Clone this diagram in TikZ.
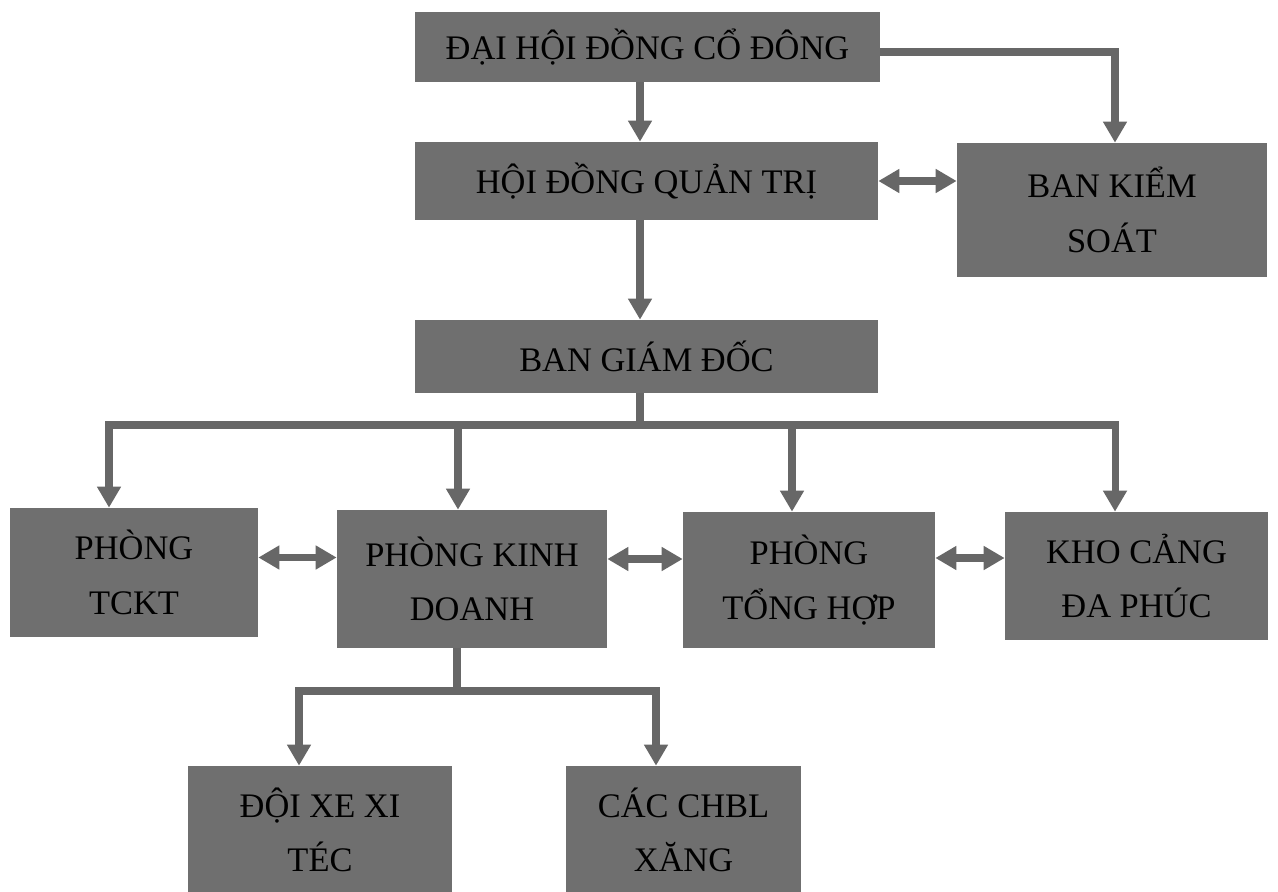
\documentclass[tikz,border=0pt]{standalone}
\usepackage{fontspec}
\setmainfont{Liberation Serif}
\usetikzlibrary{arrows.meta}
\definecolor{boxgray}{HTML}{6F6F6F}
\definecolor{arrowgray}{HTML}{676767}

\begin{document}
\begin{tikzpicture}[x=0.02cm,y=-0.02cm]
    \tikzstyle{every node}+=[inner sep=0pt]
    \tikzstyle{box}=[fill=boxgray, align=center, font=\fontsize{19.6}{31}\selectfont]
    \tikzstyle{link}=[draw=arrowgray, line width=4pt]
    \tikzstyle{arrow}=[link, -{Triangle[width=13pt,length=12pt]}]
    \tikzstyle{twoway}=[link, {Triangle[width=13pt,length=12pt]}-{Triangle[width=13pt,length=12pt]}]
    \useasboundingbox [fill=white] (0,0) rectangle (1278,892);
    % boxes
    \node [box, minimum width=9.3cm, minimum height=1.4cm] (dhdcd) at (647.5,47) {ĐẠI HỘI ĐỒNG CỔ ĐÔNG};
    \node [box, minimum width=9.26cm, minimum height=1.56cm] (hdqt) at (646.5,181) {HỘI ĐỒNG QUẢN TRỊ};
    \node [box, minimum width=6.2cm, minimum height=2.68cm] (bks) at (1112,210) {BAN KIỂM\\SOÁT};
    \node [box, minimum width=9.26cm, minimum height=1.46cm] (bgd) at (646.5,356.5) {BAN GIÁM ĐỐC};
    \node [box, minimum width=4.96cm, minimum height=2.58cm] (tckt) at (134,572.5) {PHÒNG\\TCKT};
    \node [box, minimum width=5.4cm, minimum height=2.76cm] (kd) at (472,579) {PHÒNG KINH\\DOANH};
    \node [box, minimum width=5.04cm, minimum height=2.72cm] (th) at (809,580) {PHÒNG\\TỔNG HỢP};
    \node [box, minimum width=5.26cm, minimum height=2.56cm] (kho) at (1136.5,576) {KHO CẢNG\\ĐA PHÚC};
    \node [box, minimum width=5.3cm, minimum height=2.56cm] (doi) at (320,830) {ĐỘI XE XI\\TÉC};
    \node [box, minimum width=4.7cm, minimum height=2.56cm] (chbl) at (683.5,830) {CÁC CHBL\\XĂNG};
    % connectors
    \coordinate (spine) at (640,0);
    \coordinate (bus) at (640,425);
    \coordinate (bus2) at (457,691);
    \draw [arrow] (dhdcd.south -| spine) -- (hdqt.north -| spine);
    \draw [arrow] ([yshift=-0.1cm]dhdcd.east) -| ([xshift=0.06cm]bks.north);
    \draw [twoway] (hdqt.east) -- (hdqt.east -| bks.west);
    \draw [arrow] (hdqt.south -| spine) -- (bgd.north -| spine);
    \draw [link] (bgd.south -| spine) -- (bus);
    \draw [arrow] (bus) -| ([xshift=-0.5cm]tckt.north);
    \draw [arrow] (bus) -| ([xshift=-0.28cm]kd.north);
    \draw [arrow] (bus) -| ([xshift=-0.34cm]th.north);
    \draw [arrow] (bus) -| ([xshift=-0.43cm]kho.north);
    \draw [twoway] ([yshift=0.3cm]tckt.east) -- ([yshift=0.3cm]tckt.east -| kd.west);
    \draw [twoway] ([yshift=0.4cm]kd.east) -- ([yshift=0.4cm]kd.east -| th.west);
    \draw [twoway] ([yshift=0.44cm]th.east) -- ([yshift=0.44cm]th.east -| kho.west);
    \draw [link] (kd.south -| bus2) -- (bus2);
    \draw [arrow] (bus2) -| ([xshift=-0.42cm]doi.north);
    \draw [arrow] (bus2) -| ([xshift=-0.55cm]chbl.north);
\end{tikzpicture}
\end{document}
